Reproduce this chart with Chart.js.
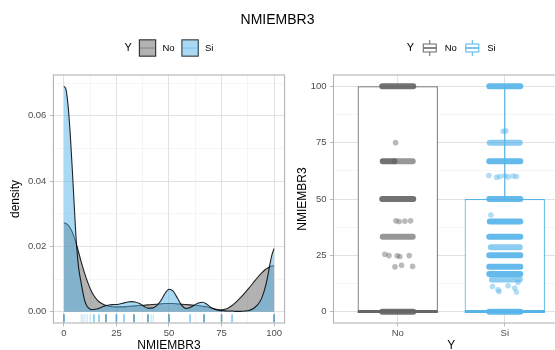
<!DOCTYPE html>
<html><head><meta charset="utf-8">
<script src="https://cdn.jsdelivr.net/npm/chart.js@4.4.1/dist/chart.umd.min.js"></script>
<style>
html,body{margin:0;padding:0;background:#fff;}
#wrap{position:relative;width:555px;height:350px;overflow:hidden;background:#fff;}
#title{position:absolute;left:0;width:555px;top:10px;text-align:center;font:14px 'Liberation Sans',Arial,sans-serif;color:#000;line-height:18px;}
#cA{position:absolute;left:0;top:0;width:290px;height:356px;}
#cB{position:absolute;left:290px;top:0;width:290px;height:356px;}
</style></head><body>
<div id="wrap">
<canvas id="cA" width="290" height="356"></canvas>
<canvas id="cB" width="290" height="356"></canvas>
<div id="title">NMIEMBR3</div>
</div>
<script>
// ---------------- data ----------------
const chartTitle = 'NMIEMBR3';
const legendTitle = 'Y';
const groups = ['No', 'Si'];

// density panel
const densX  = [0,1,2,3,4,5,6,7,8,9,10,11,12,13,14,16,18,20,22,24,26,28,30,32,34,36,38,40,42,44,46,48,50,52,54,56,58,60,62,64,66,68,70,72,74,76,78,80,82,84,86,88,90,92,94,96,97,98,99,100];
const densNo = [0.0272,0.0270,0.0265,0.0256,0.0243,0.0226,0.0205,0.0182,0.0158,0.0136,0.0115,0.0096,0.0079,0.0064,0.0052,0.0035,0.0025,0.0019,0.0016,0.0015,0.0015,0.0015,0.0016,0.0017,0.0018,0.0019,0.0020,0.0021,0.0022,0.0023,0.0024,0.0025,0.0025,0.0025,0.0024,0.0023,0.0022,0.0021,0.0020,0.0019,0.0017,0.0015,0.0011,0.0008,0.0006,0.0007,0.0011,0.0019,0.0030,0.0043,0.0057,0.0072,0.0088,0.0104,0.0118,0.0130,0.0134,0.0138,0.0140,0.0141];
const densSi = [0.0690,0.0680,0.0630,0.0545,0.0435,0.0315,0.0205,0.0135,0.0095,0.0060,0.0032,0.0017,0.0010,0.0007,0.0007,0.0009,0.0014,0.0019,0.0021,0.0022,0.0023,0.0026,0.0029,0.0031,0.0030,0.0025,0.0017,0.0011,0.0011,0.0018,0.0033,0.0055,0.0069,0.0063,0.0042,0.0020,0.0010,0.0013,0.0020,0.0027,0.0029,0.0023,0.0013,0.0007,0.0004,0.0003,0.0002,0.0002,0.0001,0.0001,0.0002,0.0004,0.0009,0.0020,0.0040,0.0080,0.0110,0.0145,0.0175,0.0193];
const rugNo = [0,20,25,33.3,40,50,66.7,75,100];
const rugSi = [0,14.3,16.7,20,25,28.6,33.3,40,50,60,66.7,75,80,100];
const rugSiFaint = [8.3,9.1,10,11.1,12.5,41.5,42.5];
const densXTicks = [0,25,50,75,100];
const densXLabels = ['0','25','50','75','100'];
const densYTicks = [0,0.02,0.04,0.06];
const densYLabels = ['0.00','0.02','0.04','0.06'];

// box panel
const boxMin = [0, 0];
const boxQ1  = [0, 0];
const boxMed = [0, 0];
const boxQ3  = [100, 50];
const boxMax = [100, 100];
const boxYTicks = [0,25,50,75,100];
const boxYLabels = ['0','25','50','75','100'];
// jitter rows: [value, offset from, offset to]  (offsets in category units)
const jitDenseNo = [[100,-0.145,0.145],[66.7,-0.14,-0.03],[50,-0.145,0.145],[0,-0.145,0.145]];
const jitSemiNo  = [[66.7,-0.03,0.14],[33.3,-0.14,0.14]];
const jitDotsNo  = [[75,-0.02],[40.3,-0.017],[40,0.014],[40.2,0.067],[40.3,0.12],[25.5,-0.12],[24.9,-0.082],[24.8,-0.005],[24.5,0.02],[24.9,0.107],[19.9,-0.026],[20.6,0.036],[20.1,0.139]];
const jitDenseSi = [[100,-0.145,0.145],[66.7,-0.145,0.145],[50,-0.145,0.145],[40,-0.14,0.145],[33.3,-0.145,0.145],[25,-0.145,0.145],[20,-0.145,0.145],[16.7,-0.145,0.145],[0,-0.145,0.145]];
const jitSemiSi  = [[75,-0.14,0.14],[28.6,-0.13,0.14],[14.3,-0.12,0.14]];
const jitDotsSi  = [[80,-0.015],[80.2,0.01],[60.4,-0.149],[59.6,-0.077],[60,-0.047],[60.3,0],[59.8,0.031],[60.2,0.077],[60,0.109],[42.9,-0.13],[11.2,-0.115],[9.7,-0.063],[9,-0.053],[11.5,0.031],[10.5,0.093],[8.7,0.109],[13,0.124]];

// ---------------- styles ----------------
const FONT = "'Liberation Sans', Arial, Helvetica, sans-serif";
const groupRGB = [[102,102,102],[86,180,233]];
const rgba = (i,a) => `rgba(${groupRGB[i][0]},${groupRGB[i][1]},${groupRGB[i][2]},${a})`;
const gridMajor = '#dedede', gridMinor = '#eeeeee', borderCol = '#b3b3b3';
const boxWidth = 0.75;

function withMinor(major) {
  const out = [];
  for (let i = 0; i < major.length; i++) {
    out.push(major[i]);
    if (i < major.length - 1) out.push((major[i] + major[i+1]) / 2);
  }
  return out;
}

const panelBorder = {
  id: 'panelBorder',
  afterDatasetsDraw(chart) {
    const {ctx, chartArea: a} = chart;
    ctx.save();
    ctx.strokeStyle = borderCol; ctx.lineWidth = 1.1;
    ctx.strokeRect(a.left, a.top, a.right - a.left, a.bottom - a.top);
    ctx.restore();
  }
};

function legendPlugin(drawKey) {
  return {
    id: 'ggLegend',
    afterDraw(chart) {
      const ctx = chart.ctx, a = chart.chartArea;
      const cy = 48, key = 17.3;
      ctx.save();
      ctx.textBaseline = 'middle';
      ctx.fillStyle = '#000';
      ctx.font = `11px ${FONT}`;
      const wY = ctx.measureText(legendTitle).width;
      ctx.font = `9.5px ${FONT}`;
      const w0 = ctx.measureText(groups[0]).width, w1 = ctx.measureText(groups[1]).width;
      const g1 = 7, g2 = 6.3, g3 = 6.8;
      const total = wY + g1 + key + g2 + w0 + g3 + key + g2 + w1;
      let x = (a.left + a.right) / 2 - total / 2;
      ctx.font = `11px ${FONT}`;
      ctx.fillText(legendTitle, x, cy); x += wY + g1;
      drawKey(ctx, x, cy - key / 2, key, 0); x += key + g2;
      ctx.font = `9.5px ${FONT}`; ctx.fillStyle = '#000';
      ctx.fillText(groups[0], x, cy); x += w0 + g3;
      drawKey(ctx, x, cy - key / 2, key, 1); x += key + g2;
      ctx.font = `9.5px ${FONT}`; ctx.fillStyle = '#000';
      ctx.fillText(groups[1], x, cy);
      ctx.restore();
    }
  };
}

function keyDensity(ctx, x, y, s, i) {
  ctx.fillStyle = '#fff'; ctx.fillRect(x, y, s, s);
  ctx.fillStyle = rgba(i, 0.5); ctx.fillRect(x, y, s, s);
  ctx.strokeStyle = 'rgba(0,0,0,0.8)'; ctx.lineWidth = 1;
  ctx.strokeRect(x + 0.5, y + 0.5, s - 1, s - 1);
  ctx.strokeStyle = rgba(i, 0.6); ctx.lineWidth = 1;
  ctx.beginPath(); ctx.moveTo(x + 1, y + s / 2); ctx.lineTo(x + s - 1, y + s / 2); ctx.stroke();
}
function keyBox(ctx, x, y, s, i) {
  const cx = x + s / 2;
  ctx.strokeStyle = rgba(i, 1); ctx.lineWidth = 1;
  ctx.beginPath();
  ctx.moveTo(cx, y + 0.03 * s); ctx.lineTo(cx, y + 0.27 * s);
  ctx.moveTo(cx, y + 0.73 * s); ctx.lineTo(cx, y + 0.97 * s);
  ctx.stroke();
  ctx.fillStyle = '#fff';
  ctx.fillRect(x + 0.125 * s, y + 0.27 * s, 0.75 * s, 0.46 * s);
  ctx.strokeRect(x + 0.125 * s, y + 0.27 * s, 0.75 * s, 0.46 * s);
  ctx.lineWidth = 1.6;
  ctx.beginPath(); ctx.moveTo(x + 0.125 * s, y + 0.5 * s); ctx.lineTo(x + 0.875 * s, y + 0.5 * s); ctx.stroke();
}

function axisCommon(majorVals, labels, min, max, fitSize, horizontal) {
  const all = withMinor(majorVals);
  if (!horizontal && max > all[all.length - 1] + (all[1] - all[0])) all.push(all[all.length - 1] + (all[1] - all[0]));
  const isMajor = v => majorVals.indexOf(v) >= 0;
  return {
    type: 'linear', min, max, offset: false,
    afterBuildTicks: ax => { ax.ticks = all.filter(v => v >= min && v <= max).map(v => ({value: v})); },
    afterFit: ax => { if (horizontal) ax.height = fitSize; else ax.width = fitSize; },
    border: {display: false},
    grid: {
      offset: false,
      color: c => isMajor(c.tick.value) ? gridMajor : gridMinor,
      lineWidth: c => isMajor(c.tick.value) ? 0.9 : 0.6,
      tickColor: c => isMajor(c.tick.value) ? borderCol : 'rgba(0,0,0,0)',
      tickWidth: 0.9,
      tickLength: 3.5,
      drawTicks: true
    },
    ticks: {
      autoSkip: false, maxRotation: 0, minRotation: 0,
      padding: horizontal ? 1.3 : 3.5,
      color: '#4d4d4d',
      font: {family: FONT, size: 9.5},
      callback: v => { const k = majorVals.indexOf(v); return k >= 0 ? labels[k] : ''; }
    }
  };
}

// ---------------- density chart ----------------
const dA = {
  type: 'line',
  data: {
    datasets: [
      {
        label: groups[0], order: 3,
        data: densX.map((x, i) => ({x, y: densNo[i]})),
        borderColor: 'rgba(0,0,0,0.85)', borderWidth: 1.1,
        backgroundColor: rgba(0, 0.5), fill: 'origin',
        pointRadius: 0, cubicInterpolationMode: 'monotone'
      },
      {
        label: groups[1], order: 2,
        data: densX.map((x, i) => ({x, y: densSi[i]})),
        borderColor: 'rgba(0,0,0,0.85)', borderWidth: 1.1,
        backgroundColor: rgba(1, 0.5), fill: 'origin',
        pointRadius: 0, cubicInterpolationMode: 'monotone'
      },
      {
        type: 'scatter', order: 1,
        data: rugNo.map(x => ({x, y: -0.002})),
        pointStyle: 'line', rotation: 90, pointRadius: 4,
        borderColor: rgba(0, 0.9), borderWidth: 1.3, showLine: false
      },
      {
        type: 'scatter', order: 0,
        data: rugSiFaint.map(x => ({x, y: -0.002})),
        pointStyle: 'line', rotation: 90, pointRadius: 4,
        borderColor: rgba(1, 0.35), borderWidth: 1.1, showLine: false
      },
      {
        type: 'scatter', order: 0,
        data: rugSi.map(x => ({x, y: -0.002})),
        pointStyle: 'line', rotation: 90, pointRadius: 4,
        borderColor: rgba(1, 0.85), borderWidth: 1.4, showLine: false
      }
    ]
  },
  options: {
    responsive: false, animation: false, events: [],
    layout: {padding: {top: 75, left: 0, right: 3.4, bottom: 0}},
    plugins: {legend: {display: false}, tooltip: {enabled: false}, title: {display: false}},
    scales: {
      x: Object.assign(axisCommon(densXTicks, densXLabels, -5, 105, 33, true), {
        title: {display: true, text: chartTitle, color: '#000', font: {family: FONT, size: 12}, padding: {top: 0, bottom: 3}}
      }),
      y: Object.assign(axisCommon(densYTicks, densYLabels, -0.00345, 0.07245, 53.4, false), {
        title: {display: true, text: 'density', color: '#000', font: {family: FONT, size: 12}, padding: {top: 8.8, bottom: 0}}
      })
    }
  },
  plugins: [panelBorder, legendPlugin(keyDensity)]
};
new Chart(document.getElementById('cA'), dA);

// ---------------- box chart ----------------
function bandData(rows, c) {
  const out = [];
  rows.forEach(r => { out.push({x: c + r[1], y: r[0]}, {x: c + r[2], y: r[0]}, {x: c, y: null}); });
  return out;
}
const boxDatasets = [];
boxDatasets.push({
  type: 'bar', order: 9,
  data: groups.map((g, i) => ({x: i + 1, y: [boxQ1[i], boxQ3[i]]})),
  backgroundColor: '#fff',
  borderColor: groups.map((g, i) => rgba(i, 1)),
  borderWidth: 1.2, borderSkipped: false,
  barPercentage: boxWidth, categoryPercentage: 1
});
groups.forEach((g, i) => {
  const c = i + 1;
  boxDatasets.push({
    type: 'line', order: 8,
    data: [{x: c, y: boxMin[i]}, {x: c, y: boxQ1[i]}, {x: c, y: null}, {x: c, y: boxQ3[i]}, {x: c, y: boxMax[i]}],
    borderColor: rgba(i, 1), borderWidth: 1.2, pointRadius: 0, spanGaps: false, fill: false
  });
  boxDatasets.push({
    type: 'line', order: 7,
    data: [{x: c - boxWidth / 2, y: boxMed[i]}, {x: c + boxWidth / 2, y: boxMed[i]}],
    borderColor: rgba(i, 1), borderWidth: 2.4, pointRadius: 0, fill: false, borderCapStyle: 'butt'
  });
});
const jit = [[jitDenseNo, jitSemiNo, jitDotsNo], [jitDenseSi, jitSemiSi, jitDotsSi]];
jit.forEach((set, i) => {
  const c = i + 1;
  boxDatasets.push({
    type: 'line', order: 3, data: bandData(set[1], c),
    borderColor: rgba(i, 0.68), borderWidth: 6, borderCapStyle: 'round',
    pointRadius: 0, spanGaps: false, fill: false, tension: 0
  });
  boxDatasets.push({
    type: 'line', order: 2, data: bandData(set[0], c),
    borderColor: rgba(i, 0.92), borderWidth: 6, borderCapStyle: 'round',
    pointRadius: 0, spanGaps: false, fill: false, tension: 0
  });
  boxDatasets.push({
    type: 'scatter', order: 1, data: set[2].map(d => ({x: c + d[1], y: d[0]})),
    backgroundColor: rgba(i, 0.45), borderWidth: 0, pointRadius: 2.8, showLine: false
  });
});

const boxX = {
  type: 'linear', min: 0.4, max: 2.6, offset: false,
  afterBuildTicks: ax => { ax.ticks = groups.map((g, i) => ({value: i + 1})); },
  afterFit: ax => { ax.height = 33; },
  border: {display: false},
  grid: {offset: false, color: gridMajor, lineWidth: 0.9, tickColor: borderCol, tickWidth: 0.9, tickLength: 3.5},
  ticks: {autoSkip: false, maxRotation: 0, padding: 1.3, color: '#4d4d4d', font: {family: FONT, size: 9.5},
          callback: v => groups[v - 1] || ''},
  title: {display: true, text: legendTitle, color: '#000', font: {family: FONT, size: 12}, padding: {top: 0, bottom: 3}}
};
const boxY = Object.assign(axisCommon(boxYTicks, boxYLabels, -5, 105, 43.5, false), {
  title: {display: true, text: chartTitle, color: '#000', font: {family: FONT, size: 12}, padding: {top: 5.8, bottom: 0}}
});

new Chart(document.getElementById('cB'), {
  type: 'bar',
  data: {datasets: boxDatasets},
  options: {
    responsive: false, animation: false, events: [],
    layout: {padding: {top: 75, left: 0, right: 11, bottom: 0}},
    plugins: {legend: {display: false}, tooltip: {enabled: false}},
    scales: {x: boxX, y: boxY}
  },
  plugins: [panelBorder, legendPlugin(keyBox)]
});
</script>
</body></html>
